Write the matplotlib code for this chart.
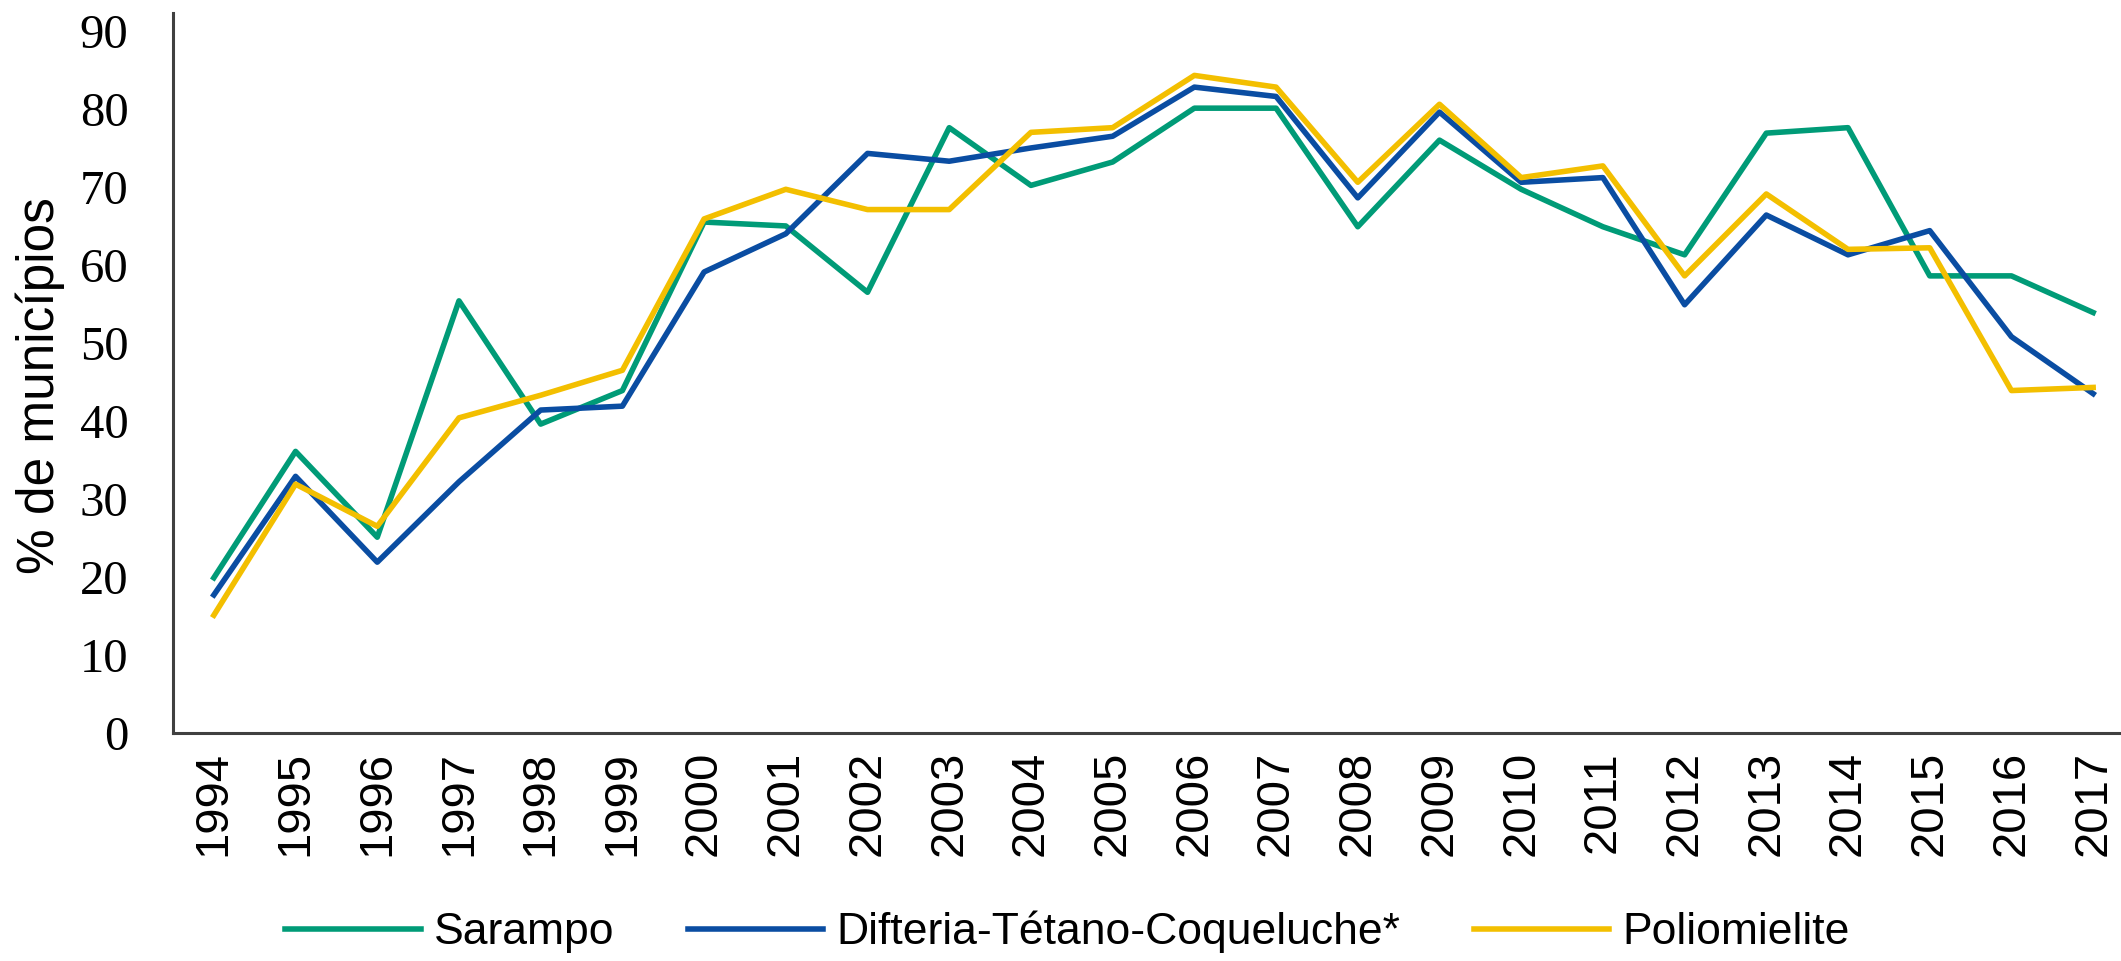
import matplotlib
matplotlib.use("Agg")
import matplotlib.pyplot as plt

# dados: % de municípios com cobertura adequada
anos = [str(a) for a in range(1994, 2018)]
sarampo = [19.9, 36.1, 25.1, 55.4, 39.6, 43.9, 65.5, 65.0, 56.5, 77.6, 70.2, 73.2,
           80.1, 80.1, 64.9, 76.0, 69.7, 64.9, 61.3, 76.9, 77.6, 58.6, 58.6, 53.9]
dtp = [17.7, 32.9, 21.9, 32.2, 41.4, 41.9, 59.1, 64.0, 74.3, 73.3, 75.0, 76.5,
       82.8, 81.6, 68.6, 79.6, 70.6, 71.2, 54.9, 66.4, 61.3, 64.4, 50.8, 43.5]
polio = [15.1, 31.9, 26.5, 40.4, 43.3, 46.5, 65.9, 69.7, 67.1, 67.1, 77.0, 77.6,
         84.3, 82.8, 70.6, 80.6, 71.2, 72.7, 58.6, 69.1, 62.0, 62.2, 43.9, 44.3]
nomes = ["Sarampo", "Difteria-Tétano-Coqueluche*", "Poliomielite"]
cores = ["#009B77", "#0A4DA2", "#F3BF00"]

fig = plt.figure(figsize=(21.21, 9.61), dpi=100)
ax = fig.add_axes([173 / 2121, 1 - 733 / 961, (2134 - 173) / 2121, 720 / 961])

x = range(len(anos))
for serie, nome, cor in zip([sarampo, dtp, polio], nomes, cores):
    ax.plot(x, serie, color=cor, lw=4, label=nome)

ax.set_xlim(-0.5, 23.5)
ax.set_ylim(0, 92.3)
ax.set_xticks(list(x))
ax.set_xticklabels(anos, rotation=90, fontsize=34, family="Liberation Sans")
ax.set_yticks(range(0, 91, 10))
ax.set_yticklabels([str(v) for v in range(0, 91, 10)], fontsize=35,
                   family="Liberation Serif")
ax.tick_params(axis="x", length=0, pad=13)
ax.tick_params(axis="y", length=0, pad=32)

for lado in ["top", "right"]:
    ax.spines[lado].set_visible(False)
for lado in ["left", "bottom"]:
    ax.spines[lado].set_color("#404040")
    ax.spines[lado].set_linewidth(2.2)

ax.set_ylabel("% de municípios", fontsize=37, family="Liberation Sans")
ax.yaxis.set_label_coords(-0.055, 0.483)

fig.legend(loc="center left", bbox_to_anchor=(285 / 2121, 1 - 932 / 961), ncol=3,
           frameon=False, borderaxespad=0, borderpad=0,
           prop={"family": "Liberation Sans", "size": 32},
           handlelength=3.05, handletextpad=0.3, columnspacing=1.65)

plt.savefig("out.png", dpi=100)
